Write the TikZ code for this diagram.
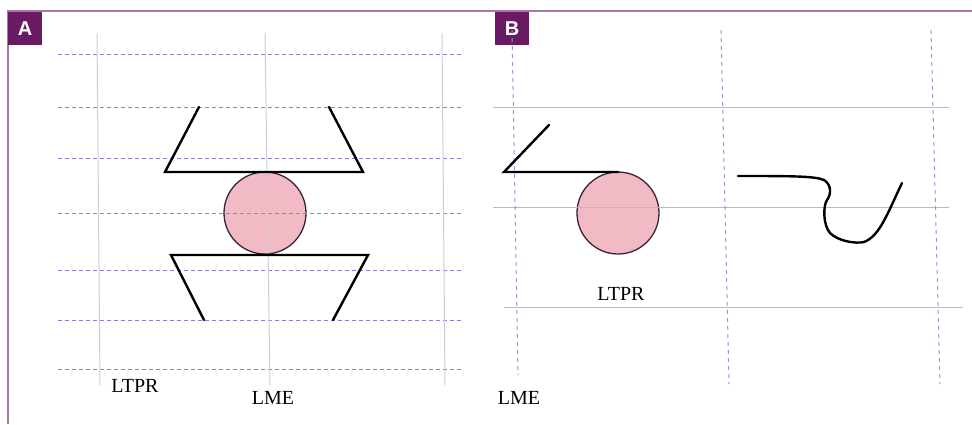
\documentclass[tikz,border=0pt]{standalone}
\usepackage{fontspec}
\setmainfont{Liberation Serif}
\newfontfamily\tagfont{Liberation Sans}
\definecolor{framepurple}{HTML}{A678A4}
\definecolor{tagpurple}{HTML}{6A1A62}
\definecolor{gridblue}{HTML}{8484DC}
\definecolor{gridgray}{HTML}{CDCDDD}
\definecolor{guideblue}{HTML}{AEB6EA}
\definecolor{ballpink}{HTML}{F2BAC4}
\definecolor{ballrim}{HTML}{3A2438}
\tikzset{
  x=1pt, y=-1pt,
  frameline/.style={framepurple, line width=1.6pt},
  paneltag/.style={fill=tagpurple, text=white, font=\tagfont\bfseries\fontsize{20}{20}\selectfont,
    minimum width=34pt, minimum height=33pt, inner sep=0pt, anchor=north west},
  dashgrid/.style={gridblue, line width=1pt, dash pattern=on 4pt off 3pt},
  plaingrid/.style={gridgray, line width=1pt},
  dashguide/.style={gridblue!85, line width=1pt, dash pattern=on 4pt off 4pt},
  solidguide/.style={guideblue, line width=1pt},
  jaw/.style={black, line width=2.4pt, line join=miter, line cap=round},
  ball/.style={circle, fill=ballpink, draw=ballrim, line width=1.3pt, minimum size=82pt, inner sep=0pt},
  caption/.style={font=\fontsize{20}{20}\selectfont, text=black, inner sep=0pt}
}
\begin{document}
\begin{tikzpicture}
\useasboundingbox[fill=white] (0,0) rectangle (972,424);

% frame
\draw[frameline] (8,424) -- (8,11) -- (972,11);
\node[paneltag] (tagA) at (8,12) {A};
\node[paneltag] (tagB) at (495,12) {B};

% ---------- panel A ----------
\node[ball] (ballA) at (265,213) {};
\foreach \yy in {54,107,158,213,270,320,369}
  \draw[dashgrid] (58,\yy) -- (463,\yy);
\draw[plaingrid] (97,33) -- (100,385);
\draw[plaingrid] (265,33) -- (270,385);
\draw[plaingrid] (442,33) -- (445,385);
\draw[jaw] (199,107) -- (165,172) -- (363,172) -- (329,107);
\draw[jaw] (204,320) -- (171,255) -- (368,255) -- (333,320);
\node[caption] (ltprA) at (135,386) {LTPR};
\node[caption] (lmeA) at (273,398) {LME};

% ---------- panel B ----------
\node[ball] (ballB) at (618,213) {};
\draw[solidguide] (493,107) -- (949,107);
\draw[solidguide] (493,207) -- (949,207);
\draw[solidguide] (504,307) -- (963,307);
\draw[dashguide] (512,30) -- (518,375);
\draw[dashguide] (721,30) -- (729,384);
\draw[dashguide] (931,30) -- (940,384);
\draw[jaw] (549,125) -- (504,172) -- (618,172);
\draw[jaw] (738,176) .. controls (790,176) and (815,176) .. (824,180)
  .. controls (832,185) and (831,195) .. (827,200)
  .. controls (823,206) and (823,225) .. (830,233)
  .. controls (838,241) and (855,244) .. (864,242)
  .. controls (880,236) and (888,212) .. (902,183);
\node[caption] (ltprB) at (621,294) {LTPR};
\node[caption] (lmeB) at (519,398) {LME};
\end{tikzpicture}
\end{document}
